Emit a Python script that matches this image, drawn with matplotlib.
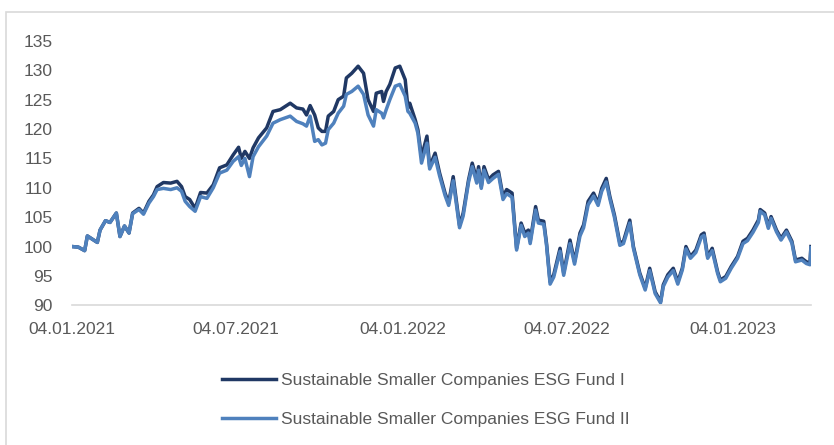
import matplotlib.pyplot as plt
import matplotlib.dates as mdates
import pandas as pd
from matplotlib.patches import Rectangle

plt.rcParams["font.family"] = ["Liberation Sans", "DejaVu Sans"]

# data (indexed to 100 at start)
dates = [
    "2021-01-04", "2021-01-11", "2021-01-18", "2021-01-21", "2021-02-01", "2021-02-04",
    "2021-02-10", "2021-02-15", "2021-02-22", "2021-02-26", "2021-03-03", "2021-03-08",
    "2021-03-12", "2021-03-19", "2021-03-24", "2021-03-30", "2021-04-04", "2021-04-08",
    "2021-04-15", "2021-04-23", "2021-04-30", "2021-05-05", "2021-05-09", "2021-05-14",
    "2021-05-20", "2021-05-26", "2021-06-02", "2021-06-09", "2021-06-16", "2021-06-24",
    "2021-07-01", "2021-07-07", "2021-07-10", "2021-07-14", "2021-07-19", "2021-07-23",
    "2021-07-29", "2021-08-07", "2021-08-14", "2021-08-22", "2021-09-02", "2021-09-09",
    "2021-09-16", "2021-09-20", "2021-09-24", "2021-09-29", "2021-10-03", "2021-10-07",
    "2021-10-11", "2021-10-14", "2021-10-20", "2021-10-25", "2021-10-31", "2021-11-03",
    "2021-11-09", "2021-11-16", "2021-11-22", "2021-11-27", "2021-12-03", "2021-12-06",
    "2021-12-12", "2021-12-14", "2021-12-17", "2021-12-21", "2021-12-27", "2022-01-01",
    "2022-01-07", "2022-01-10", "2022-01-12", "2022-01-18", "2022-01-21", "2022-01-25",
    "2022-01-31", "2022-02-03", "2022-02-09", "2022-02-14", "2022-02-20", "2022-02-24",
    "2022-03-01", "2022-03-08", "2022-03-12", "2022-03-18", "2022-03-22", "2022-03-27",
    "2022-03-29", "2022-04-01", "2022-04-04", "2022-04-09", "2022-04-14", "2022-04-20",
    "2022-04-25", "2022-04-29", "2022-05-05", "2022-05-10", "2022-05-15", "2022-05-19",
    "2022-05-23", "2022-05-25", "2022-05-31", "2022-06-03", "2022-06-09", "2022-06-12",
    "2022-06-16", "2022-06-20", "2022-06-27", "2022-07-01", "2022-07-08", "2022-07-13",
    "2022-07-19", "2022-07-23", "2022-07-28", "2022-08-03", "2022-08-08", "2022-08-12",
    "2022-08-17", "2022-08-21", "2022-08-26", "2022-09-01", "2022-09-05", "2022-09-12",
    "2022-09-16", "2022-09-23", "2022-09-29", "2022-10-04", "2022-10-10", "2022-10-16",
    "2022-10-19", "2022-10-24", "2022-10-30", "2022-11-04", "2022-11-09", "2022-11-13",
    "2022-11-18", "2022-11-24", "2022-11-30", "2022-12-03", "2022-12-07", "2022-12-12",
    "2022-12-18", "2022-12-21", "2022-12-27", "2023-01-02", "2023-01-09", "2023-01-15",
    "2023-01-20", "2023-01-26", "2023-02-01", "2023-02-03", "2023-02-08", "2023-02-12",
    "2023-02-15", "2023-02-21", "2023-02-26", "2023-03-04", "2023-03-10", "2023-03-14",
    "2023-03-21", "2023-03-26", "2023-03-30", "2023-03-31",
]

fund_1 = [
    100.0, 99.9, 99.3, 101.8, 100.7, 102.8, 104.4, 104.1, 105.7, 101.7, 103.5, 102.3,
    105.7, 106.5, 105.7, 107.7, 108.8, 110.2, 110.9, 110.8, 111.1, 110.2, 108.5, 108.0,
    106.5, 109.2, 109.1, 110.5, 113.4, 113.9, 115.6, 116.9, 115.0, 116.2, 115.0, 116.8,
    118.5, 120.2, 123.0, 123.3, 124.4, 123.6, 123.4, 122.4, 124.0, 122.4, 120.2, 119.6,
    119.6, 122.2, 123.0, 125.0, 125.6, 128.7, 129.5, 130.7, 129.5, 125.0, 123.0, 126.1,
    126.4, 124.7, 126.4, 127.6, 130.4, 130.7, 128.4, 123.6, 124.4, 121.6, 119.9, 115.3,
    118.8, 113.6, 115.9, 112.5, 109.1, 107.4, 111.9, 103.6, 105.7, 111.4, 114.2, 111.4,
    113.6, 110.2, 113.6, 111.4, 112.2, 112.8, 108.5, 109.7, 109.1, 99.7, 104.0, 102.3,
    102.8, 100.9, 106.8, 104.5, 104.3, 100.6, 94.0, 95.2, 99.7, 95.5, 101.1, 97.4,
    102.3, 103.7, 107.7, 109.1, 107.4, 109.9, 111.6, 108.5, 105.4, 100.6, 100.9, 104.5,
    100.0, 95.5, 92.9, 96.3, 92.3, 90.6, 93.5, 95.2, 96.3, 94.0, 96.3, 100.0,
    98.3, 99.4, 102.0, 102.3, 98.3, 99.7, 95.7, 94.3, 94.9, 96.6, 98.3, 100.9,
    101.4, 102.8, 104.5, 106.3, 105.7, 103.4, 105.1, 102.8, 101.4, 102.8, 100.9, 97.7,
    98.0, 97.4, 97.2, 100.0,
]

fund_2 = [
    100.0, 99.9, 99.3, 101.8, 100.7, 102.8, 104.4, 104.1, 105.7, 101.7, 103.5, 102.3,
    105.6, 106.3, 105.5, 107.4, 108.5, 109.7, 109.9, 109.7, 110.0, 109.4, 107.7, 106.8,
    106.0, 108.5, 108.2, 110.0, 112.5, 113.0, 114.5, 115.3, 113.8, 115.0, 111.9, 115.3,
    117.0, 118.8, 121.0, 121.6, 122.2, 121.3, 120.9, 120.5, 122.2, 117.9, 118.2, 117.3,
    117.6, 119.9, 121.0, 122.7, 123.9, 125.9, 126.4, 127.3, 125.9, 122.4, 120.5, 123.3,
    122.7, 121.9, 123.3, 125.0, 127.3, 127.6, 125.6, 123.0, 122.7, 121.0, 119.3, 114.2,
    117.6, 113.2, 115.2, 112.0, 108.7, 107.0, 111.2, 103.2, 105.2, 111.0, 113.6, 110.8,
    113.0, 109.9, 113.0, 110.9, 111.6, 112.3, 108.0, 109.0, 108.4, 99.4, 103.6, 101.7,
    102.3, 100.5, 106.2, 104.0, 103.8, 100.3, 93.6, 94.8, 99.2, 95.1, 100.5, 97.0,
    101.8, 103.2, 107.1, 108.6, 107.0, 109.4, 111.0, 108.1, 105.0, 100.2, 100.5, 104.0,
    99.7, 95.2, 92.6, 95.9, 92.0, 90.4, 93.2, 94.8, 95.9, 93.6, 96.0, 99.6,
    98.0, 99.0, 101.6, 101.9, 98.0, 99.3, 95.4, 94.0, 94.6, 96.3, 98.0, 100.5,
    101.0, 102.4, 104.1, 106.0, 105.4, 103.1, 104.8, 102.5, 101.1, 102.5, 100.6, 97.4,
    97.7, 97.1, 96.9, 99.8,
]

labels = ["Sustainable Smaller Companies ESG Fund I", "Sustainable Smaller Companies ESG Fund II"]
colors = ["#203864", "#4F81BD"]
tick_dates = ["2021-01-04", "2021-07-04", "2022-01-04", "2022-07-04", "2023-01-04"]

df = pd.DataFrame({"date": pd.to_datetime(dates), "f1": fund_1, "f2": fund_2})

fig = plt.figure(figsize=(8.34, 4.45), dpi=100)
ax = fig.add_axes([0.0863, 0.314, 0.886, 0.594])

ax.plot(df["date"], df["f1"], color=colors[0], lw=2.5, label=labels[0])
ax.plot(df["date"], df["f2"], color=colors[1], lw=2.5, label=labels[1])

ax.set_ylim(90, 135)
ax.set_yticks(range(90, 136, 5))
ax.set_xlim(df["date"].iloc[0], df["date"].iloc[-1])
ax.set_xticks(pd.to_datetime(tick_dates))
ax.xaxis.set_major_formatter(mdates.DateFormatter("%d.%m.%Y"))

for s in ["top", "right", "left"]:
    ax.spines[s].set_visible(False)
ax.spines["bottom"].set_color("#d9d9d9")
ax.spines["bottom"].set_linewidth(1.2)
ax.tick_params(length=0, labelsize=12.5, colors="#595959")
ax.tick_params(axis="x", pad=12)
ax.tick_params(axis="y", pad=14)

fig.legend(loc="center", bbox_to_anchor=(0.511, 0.101), ncol=1, frameon=False,
           fontsize=12.5, labelcolor="#595959", handlelength=3.1, handletextpad=0.3,
           labelspacing=1.4)

# light frame around the chart area
fig.patches.append(Rectangle((6 / 834, -0.1), 1.2, 1.1 - 12 / 445, transform=fig.transFigure,
                             fill=False, edgecolor="#d9d9d9", lw=1.2))

plt.savefig("out.png", dpi=100)
